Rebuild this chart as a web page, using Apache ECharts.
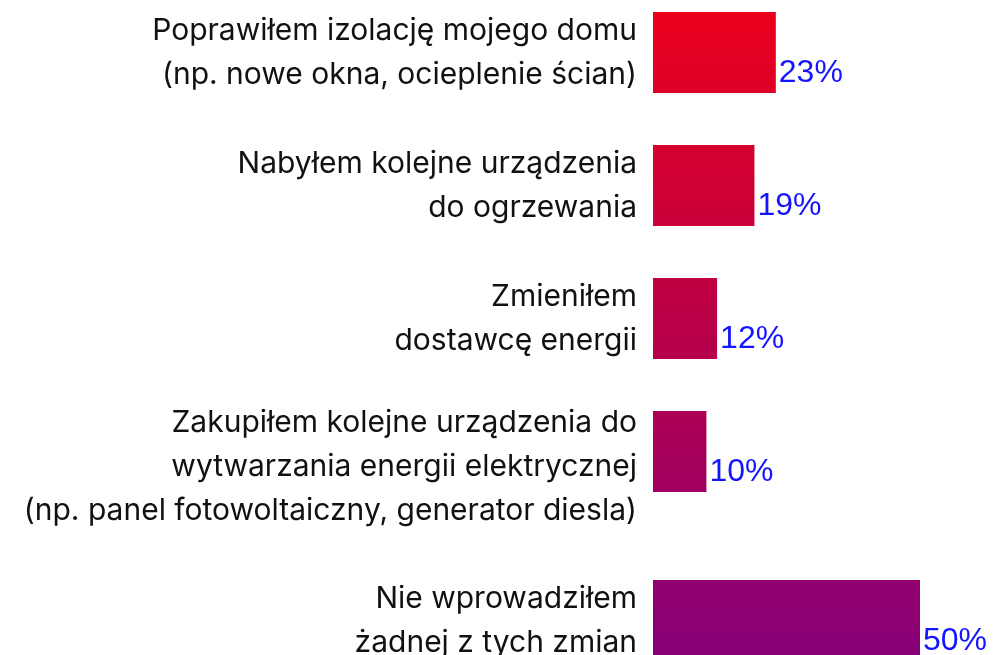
<!DOCTYPE html>
<html>
<head>
<meta charset="utf-8">
<script src="https://cdn.jsdelivr.net/npm/echarts@6/dist/echarts.min.js"></script>
<style>
html,body{margin:0;padding:0;background:#fff;}
._chart{width:996px;height:655px;}
</style>
</head>
<body>
<div id="myEchart" class="_chart"></div>
<script>
// kategorie (odpowiedzi) i wartości w %
var categories = [
	'Poprawiłem izolację mojego domu\n(np. nowe okna, ocieplenie ścian)',
	'Nabyłem kolejne urządzenia\ndo ogrzewania',
	'Zmieniłem\ndostawcę energii',
	'Zakupiłem kolejne urządzenia do\nwytwarzania energii elektrycznej\n(np. panel fotowoltaiczny, generator diesla)',
	'Nie wprowadziłem\nżadnej z tych zmian'
];
var values = [23, 19, 12, 10, 50];

// ostatnia odpowiedź jest odsunięta w dół, więc ma osobny grid
var topCats = categories.slice(0, 4), topVals = values.slice(0, 4);
var lastCats = categories.slice(4), lastVals = values.slice(4);

// jeden gradient na cały wykres: czerwony u góry, fiolet na dole
var barColor = new echarts.graphic.LinearGradient(0, 0, 0, 661,
	[{ offset: 0, color: '#ec001a' },
	{ offset: 1, color: '#860078' }], true);

function yAxisFor(cats, idx) {
	return {
		type: 'category',
		gridIndex: idx,
		inverse: true,
		data: cats,
		axisLine: { show: false },
		axisTick: { show: false },
		splitLine: { show: false },
		axisLabel: {
			interval: 0,
			margin: 16,
			color: '#111',
			fontFamily: 'Inter',
			fontSize: 30,
			lineHeight: 44,
			align: 'right',
			// etykieta 3-wierszowa jest w oryginale trochę niżej niż słupek
			formatter: function (v) {
				return v.split('\n').length > 2 ? '{gap| }\n' + v : v;
			},
			rich: { gap: { fontSize: 1, lineHeight: 30 } }
		}
	};
}
function xAxisFor(idx) {
	return { type: 'value', gridIndex: idx, min: 0, max: 50, show: false };
}
function seriesFor(vals, idx) {
	return {
		type: 'bar',
		xAxisIndex: idx,
		yAxisIndex: idx,
		data: vals,
		barWidth: 81,
		itemStyle: { color: barColor },
		label: {
			show: true,
			position: 'right',
			distance: 3,
			offset: [0, 21],
			formatter: '{c}%',
			color: '#1414ff',
			fontFamily: 'Liberation Sans',
			fontSize: 32
		}
	};
}

var myChart = echarts.init(document.getElementById('myEchart'));
myChart.setOption({
	backgroundColor: '#fff',
	animation: false,
	grid: [
		{ left: 653, top: -14, width: 267, height: 532, outerBoundsMode: 'none' },
		{ left: 653, top: 554, width: 267, height: 133, outerBoundsMode: 'none' }
	],
	xAxis: [xAxisFor(0), xAxisFor(1)],
	yAxis: [yAxisFor(topCats, 0), yAxisFor(lastCats, 1)],
	series: [seriesFor(topVals, 0), seriesFor(lastVals, 1)]
});
</script>
</body>
</html>
